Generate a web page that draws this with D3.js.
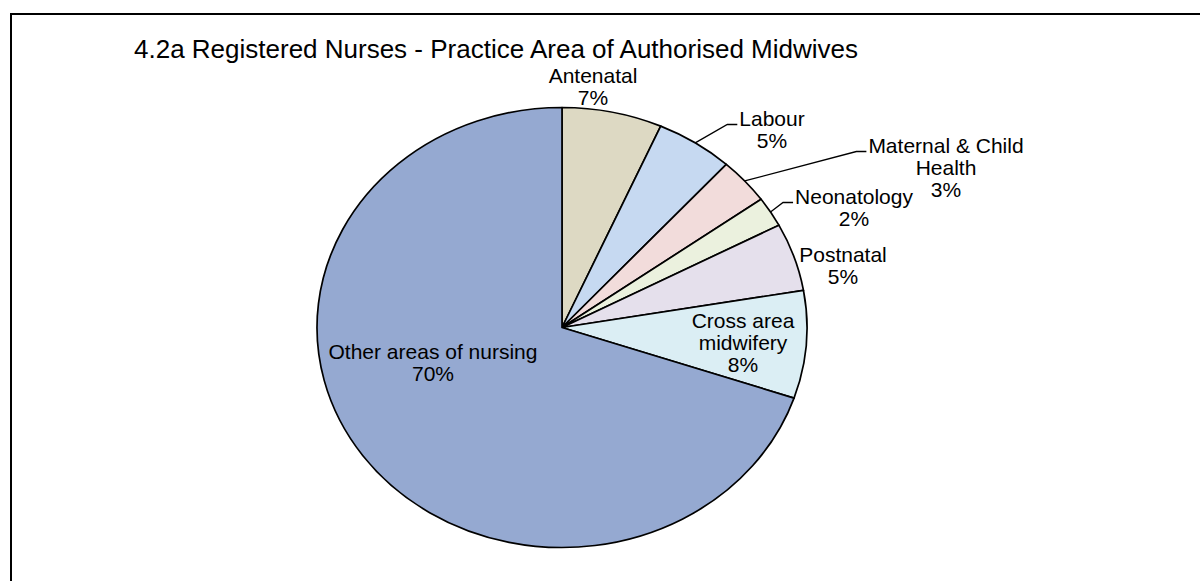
<!DOCTYPE html>
<html>
<head>
<meta charset="utf-8">
<script src="https://cdn.jsdelivr.net/npm/d3@7"></script>
<style>
  html, body { margin: 0; padding: 0; background: #fff; }
  svg { display: block; }
  text { font-family: "Liberation Sans", Arial, sans-serif; fill: #000; }
</style>
</head>
<body>
<svg id="chart" width="1200" height="581"></svg>
<script>
// Practice area shares of authorised midwives (percent of registered nurses)
const categories = [
  "Antenatal",
  "Labour",
  "Maternal & Child Health",
  "Neonatology",
  "Postnatal",
  "Cross area midwifery",
  "Other areas of nursing"
];
const values = [6.6, 5.1, 3.4, 2.2, 5.0, 7.9, 69.8];
const labelLines = [
  ["Antenatal"],
  ["Labour"],
  ["Maternal & Child", "Health"],
  ["Neonatology"],
  ["Postnatal"],
  ["Cross area", "midwifery"],
  ["Other areas of nursing"]
];
const sliceColors = ["#DDD9C3", "#C6D9F1", "#F2DCDB", "#EBF1DE", "#E5E0EC", "#DBEEF4", "#95A9D1"];
const chartTitle = "4.2a Registered Nurses - Practice Area of Authorised Midwives";

// Layout: label block centre (x) and first baseline (y); leader = draw a leader line
const labelLayout = [
  { x: 593, y: 83, leader: false },
  { x: 772, y: 126, leader: true },
  { x: 946, y: 153, leader: true },
  { x: 854, y: 204, leader: true },
  { x: 843, y: 262, leader: false },
  { x: 743, y: 328, leader: false },
  { x: 433, y: 359, leader: false }
];

const svg = d3.select("#chart");
const cx = 562, cy = 327.5, rx = 245, ry = 220;
const lineHeight = 22;

// Chart frame
svg.append("rect")
  .attr("x", 11).attr("y", 14)
  .attr("width", 1400).attr("height", 800)
  .attr("fill", "none").attr("stroke", "#000").attr("stroke-width", 2);

// Title
svg.append("text")
  .attr("x", 496).attr("y", 57.5)
  .attr("text-anchor", "middle")
  .style("font-size", "26px")
  .text(chartTitle);

const total = d3.sum(values);
const data = categories.map((c, i) => ({ name: c, value: values[i], i }));

const pie = d3.pie().sort(null).value(d => d.value).startAngle(0).endAngle(2 * Math.PI);
const arcs = pie(data);

const arc = d3.arc().innerRadius(0).outerRadius(ry);

// Slices drawn on a circle of radius ry, stretched horizontally into an ellipse
const pieG = svg.append("g")
  .attr("transform", `translate(${cx},${cy}) scale(${rx / ry},1)`);

pieG.selectAll("path")
  .data(arcs)
  .join("path")
  .attr("d", arc)
  .attr("fill", d => sliceColors[d.data.i])
  .attr("stroke", "#000")
  .attr("stroke-width", 1.7)
  .attr("stroke-linejoin", "round")
  .attr("vector-effect", "non-scaling-stroke");

// Point on the ellipse edge for an angle measured clockwise from 12 o'clock
const edgePoint = a => [cx + rx * Math.sin(a), cy - ry * Math.cos(a)];

const fmt = v => Math.round(v / total * 100) + "%";

const labelG = svg.append("g");
arcs.forEach(d => {
  const i = d.data.i;
  const lay = labelLayout[i];
  const lines = labelLines[i].concat([fmt(d.data.value)]);
  const t = labelG.append("text")
    .attr("text-anchor", "middle")
    .style("font-size", "21px");
  lines.forEach((ln, k) => {
    t.append("tspan")
      .attr("x", lay.x)
      .attr("y", lay.y + k * lineHeight)
      .text(ln);
  });

  if (lay.leader) {
    const firstWidth = t.select("tspan").node().getComputedTextLength();
    const left = lay.x - firstWidth / 2;
    const mid = (d.startAngle + d.endAngle) / 2;
    const start = edgePoint(mid);
    const yEnd = lay.y - 1.5;
    svg.append("polyline")
      .attr("points", [start, [left - 12, yEnd], [left - 2, yEnd]].map(p => p.join(",")).join(" "))
      .attr("fill", "none")
      .attr("stroke", "#000")
      .attr("stroke-width", 1.3);
  }
});
</script>
</body>
</html>
